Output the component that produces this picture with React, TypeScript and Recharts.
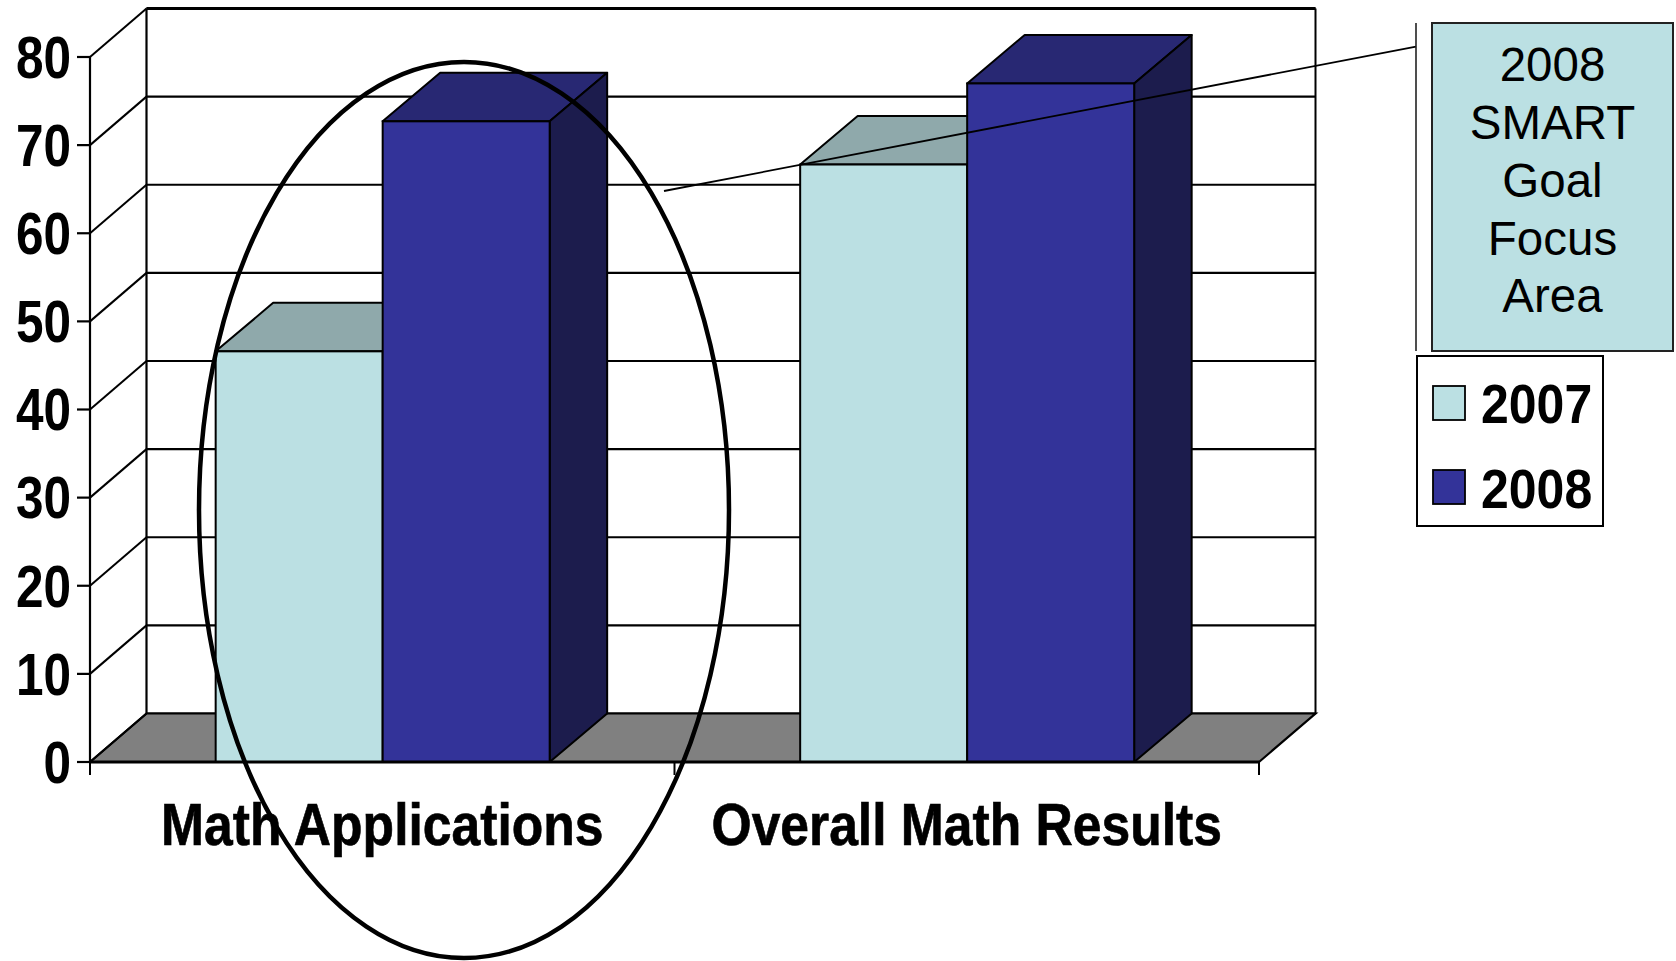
import { BarChart, Bar, XAxis, YAxis, CartesianGrid, ReferenceArea, Legend } from 'recharts'

// Test scores by subject, 2007 vs 2008
const CATEGORIES = ['Math Applications', 'Overall Math Results']
const SCORES_2007 = [46.6, 67.8]
const SCORES_2008 = [72.7, 77.0]
const Y_TICKS = [0, 10, 20, 30, 40, 50, 60, 70, 80]
const CALLOUT_LINES = ['2008', 'SMART', 'Goal', 'Focus', 'Area']

const rows = CATEGORIES.map((category, i) => ({
  category,
  y2007: SCORES_2007[i],
  y2008: SCORES_2008[i],
}))

const W = 1676
const H = 961
const FONT = '"Liberation Sans", Arial, Helvetica, sans-serif'

// depth of the 3D frame (wall/floor) and of each column
const WALL_DX = 56.5
const WALL_DY = 48.5
const BAR_DX = 57.5
const BAR_DY = 48.5

const Y_TICK_SIZE = 13
const Y_TICK_MARGIN = 6

const C2007 = { front: '#BBE0E3', top: '#8FA9AB', side: '#7C9496' }
const C2008 = { front: '#333399', top: '#282873', side: '#1C1C4D' }
const FLOOR = '#808080'

function boxShape(c: { front: string; top: string; side: string }) {
  return (props: any) => {
    const { x, y, width, height } = props
    if (width == null || height == null) return <g />
    const x2 = x + width
    const y2 = y + height
    return (
      <g>
        <polygon
          points={`${x},${y} ${x + BAR_DX},${y - BAR_DY} ${x2 + BAR_DX},${y - BAR_DY} ${x2},${y}`}
          fill={c.top}
          stroke="#000"
          strokeWidth={2}
          strokeLinejoin="round"
        />
        <polygon
          points={`${x2},${y} ${x2 + BAR_DX},${y - BAR_DY} ${x2 + BAR_DX},${y2 - BAR_DY} ${x2},${y2}`}
          fill={c.side}
          stroke="#000"
          strokeWidth={2}
          strokeLinejoin="round"
        />
        <rect x={x} y={y} width={width} height={height} fill={c.front} stroke="#000" strokeWidth={2} />
      </g>
    )
  }
}

// back-wall gridline: the grid's own line pushed back by the frame depth
function WallGridLine(props: any) {
  const { x1, x2, y1, y2 } = props
  return (
    <line
      key={`wall-${y1}`}
      x1={x1 + WALL_DX}
      x2={x2 + WALL_DX}
      y1={y1 - WALL_DY}
      y2={y2 - WALL_DY}
      stroke="#000"
      strokeWidth={2.2}
    />
  )
}

// floor, wall edges and category boundary ticks, laid over the plot rectangle
function Backdrop(props: any) {
  const { x, y, width, height } = props
  const bottom = y + height
  const n = CATEGORIES.length
  return (
    <g>
      <polygon
        points={`${x},${bottom} ${x + WALL_DX},${bottom - WALL_DY} ${x + width + WALL_DX},${bottom - WALL_DY} ${x + width},${bottom}`}
        fill={FLOOR}
        stroke="#000"
        strokeWidth={2.2}
      />
      <line x1={x + WALL_DX} y1={y - WALL_DY} x2={x + WALL_DX} y2={bottom - WALL_DY} stroke="#000" strokeWidth={2.2} />
      <line
        x1={x + width + WALL_DX}
        y1={y - WALL_DY}
        x2={x + width + WALL_DX}
        y2={bottom - WALL_DY}
        stroke="#000"
        strokeWidth={2}
      />
      <line x1={x + WALL_DX} y1={y - WALL_DY} x2={x + width + WALL_DX} y2={y - WALL_DY} stroke="#000" strokeWidth={3} />
      {Array.from({ length: n + 1 }, (_, i) => (
        <line
          key={i}
          x1={x + (width * i) / n}
          y1={bottom}
          x2={x + (width * i) / n}
          y2={bottom + 13}
          stroke="#000"
          strokeWidth={2}
        />
      ))}
    </g>
  )
}

function ValueTick(props: any) {
  const { x, y, payload } = props
  const axisX = x + Y_TICK_SIZE + Y_TICK_MARGIN
  return (
    <g>
      <line x1={axisX} y1={y} x2={axisX + WALL_DX} y2={y - WALL_DY} stroke="#000" strokeWidth={2} />
      <text
        transform={`translate(${x} ${y}) scale(1 1.19)`}
        x={0}
        y={17.5}
        textAnchor="end"
        fontFamily={FONT}
        fontWeight={700}
        fontSize={49.5}
        fill="#000"
      >
        {payload.value}
      </text>
    </g>
  )
}

function CategoryTick(props: any) {
  const { x, y, payload } = props
  return (
    <text
      transform={`translate(${x} ${y}) scale(1 1.14)`}
      x={0}
      y={73}
      textAnchor="middle"
      fontFamily={FONT}
      fontWeight={700}
      fontSize={51.6}
      fill="#000"
      stroke="#000"
      strokeWidth={0.6}
    >
      {payload.value}
    </text>
  )
}

function LegendBox(props: any) {
  const items = props.payload || []
  return (
    <svg width={188} height={172} style={{ display: 'block' }}>
      <rect x={1} y={1} width={186} height={170} fill="#fff" stroke="#000" strokeWidth={2} />
      {items.map((it: any, i: number) => (
        <g key={it.value}>
          <rect x={17} y={31 + i * 84} width={32} height={34} fill={it.color} stroke="#000" strokeWidth={1.8} />
          <text
            transform={`translate(65 ${68 + i * 85}) scale(1 1.12)`}
            fontFamily={FONT}
            fontWeight={700}
            fontSize={50}
            fill="#000"
          >
            {it.value}
          </text>
        </g>
      ))}
    </svg>
  )
}

function Annotations() {
  return (
    <svg
      width={W}
      height={H}
      style={{ position: 'absolute', left: 0, top: 0, pointerEvents: 'none' }}
    >
      <ellipse cx={464} cy={510} rx={265} ry={448} fill="none" stroke="#000" strokeWidth={4.5} />
      <line x1={664} y1={191} x2={1416} y2={46.6} stroke="#000" strokeWidth={1.8} />
      <line x1={1416} y1={23} x2={1416} y2={351} stroke="#222" strokeWidth={1.6} />
      <rect x={1432} y={23} width={241} height={328} fill="#BBE0E3" stroke="#222" strokeWidth={2} />
      {CALLOUT_LINES.map((t, i) => (
        <text
          key={t}
          x={1552.5}
          y={81.4 + i * 57.7}
          textAnchor="middle"
          fontFamily={FONT}
          fontSize={47.5}
          fill="#000"
        >
          {t}
        </text>
      ))}
    </svg>
  )
}

export default function App() {
  return (
    <div style={{ position: 'absolute', left: 0, top: 0, width: W, height: H, background: '#fff' }}>
      <BarChart
        width={W}
        height={H}
        data={rows}
        margin={{ top: 57, right: 417, bottom: 99, left: 0 }}
        barCategoryGap="21.5%"
        barGap={0}
      >
        <CartesianGrid vertical={false} horizontal={WallGridLine} />
        <ReferenceArea y1={0} y2={80} shape={Backdrop} ifOverflow="visible" />
        <XAxis
          dataKey="category"
          height={100}
          tickLine={false}
          tickSize={0}
          tickMargin={0}
          axisLine={{ stroke: '#000', strokeWidth: 2.8 }}
          tick={CategoryTick}
          interval={0}
        />
        <YAxis
          width={90}
          domain={[0, 80]}
          ticks={Y_TICKS}
          interval={0}
          tickSize={Y_TICK_SIZE}
          tickMargin={Y_TICK_MARGIN}
          axisLine={{ stroke: '#000', strokeWidth: 2.2 }}
          tickLine={{ stroke: '#000', strokeWidth: 2.2 }}
          tick={ValueTick}
        />
        <Legend
          layout="vertical"
          align="center"
          verticalAlign="middle"
          wrapperStyle={{ left: 1416, top: 355, width: 188, height: 172 }}
          content={LegendBox}
        />
        <Bar dataKey="y2007" name="2007" fill={C2007.front} shape={boxShape(C2007)} isAnimationActive={false} />
        <Bar dataKey="y2008" name="2008" fill={C2008.front} shape={boxShape(C2008)} isAnimationActive={false} />
      </BarChart>
      <Annotations />
    </div>
  )
}
